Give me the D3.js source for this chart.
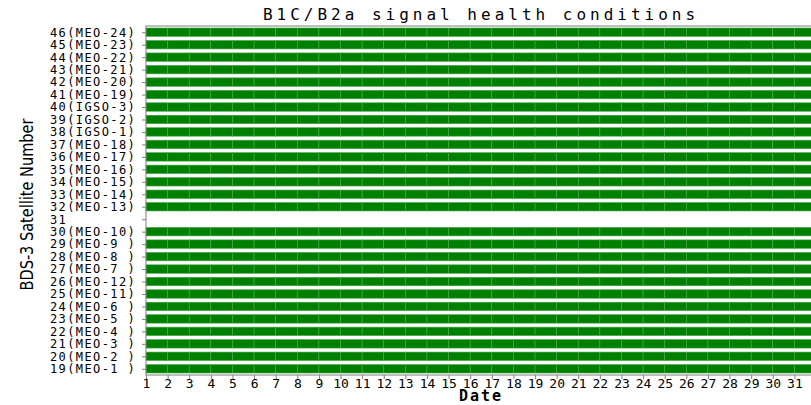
<!DOCTYPE html>
<html>
<head>
<meta charset="utf-8">
<script src="https://cdn.jsdelivr.net/npm/d3@7"></script>
<style>
  body { margin: 0; background: #fff; }
  svg { display: block; }
</style>
</head>
<body>
<script>
// satellite rows, bottom to top
const satIds = [19, 20, 21, 22, 23, 24, 25, 26, 27, 28, 29, 30, 31, 32, 33, 34, 35, 36, 37, 38, 39, 40, 41, 42, 43, 44, 45, 46];
const satNames = ['MEO-1 ', 'MEO-2 ', 'MEO-3 ', 'MEO-4 ', 'MEO-5 ', 'MEO-6 ', 'MEO-11', 'MEO-12', 'MEO-7 ', 'MEO-8 ', 'MEO-9 ', 'MEO-10',
                  '', 'MEO-13', 'MEO-14', 'MEO-15', 'MEO-16', 'MEO-17', 'MEO-18', 'IGSO-1', 'IGSO-2', 'IGSO-3',
                  'MEO-19', 'MEO-20', 'MEO-21', 'MEO-22', 'MEO-23', 'MEO-24'];
// 1 = healthy every day of the month, 0 = no record (satellite 31)
const satHealthy = [1, 1, 1, 1, 1, 1, 1, 1, 1, 1, 1, 1, 0, 1, 1, 1, 1, 1, 1, 1, 1, 1, 1, 1, 1, 1, 1, 1];
const days = d3.range(1, 32);

const W = 811, H = 405;
const margin = {left: 146, top: 26, bottom: 30};
const plotRight = 816;

const svg = d3.select('body').append('svg')
    .attr('width', W)
    .attr('height', H);

const x = d3.scaleLinear().domain([1, 32]).range([margin.left, plotRight]);
const y = d3.scaleLinear().domain([18.5, 46.5]).range([H - margin.bottom, margin.top]);
const rowH = y(0) - y(1);
const barH = rowH * 0.68;

// cells
const cells = [];
satIds.forEach((id, i) => {
    if (!satHealthy[i]) return;
    days.forEach(d => cells.push({id: id, day: d}));
});

svg.append('g').selectAll('rect')
    .data(cells)
    .enter()
    .append('rect')
    .attr('x', d => x(d.day))
    .attr('width', d => x(d.day + 1) - x(d.day))
    .attr('y', d => y(d.id) - barH / 2)
    .attr('height', barH)
    .attr('fill', '#008000')
    .attr('stroke', '#4aa84a')
    .attr('stroke-width', 0.6);

// frame
svg.append('rect')
    .attr('x', margin.left)
    .attr('y', margin.top)
    .attr('width', plotRight - margin.left)
    .attr('height', H - margin.bottom - margin.top)
    .attr('fill', 'none')
    .attr('stroke', '#808080')
    .attr('stroke-width', 1);

const mono = '"DejaVu Sans Mono", "Liberation Mono", monospace';

// y axis, labels left aligned
const yAxis = svg.append('g')
    .attr('transform', 'translate(' + margin.left + ',0)')
    .call(d3.axisLeft(y).tickValues(satIds).tickSize(4)
        .tickFormat((d, i) => satNames[i] ? d + '(' + satNames[i] + ')' : String(d)));
yAxis.select('.domain').remove();
yAxis.selectAll('line').attr('stroke', '#808080');
yAxis.selectAll('text')
    .attr('x', 50 - margin.left)
    .attr('text-anchor', 'start')
    .attr('font-family', mono)
    .attr('font-size', 12)
    .attr('letter-spacing', 1.4)
    .attr('fill', '#000')
    .style('white-space', 'pre');

// x axis
const xAxis = svg.append('g')
    .attr('transform', 'translate(0,' + (H - margin.bottom) + ')')
    .call(d3.axisBottom(x).tickValues(days).tickSize(4).tickPadding(0).tickFormat(d3.format('d')));
xAxis.select('.domain').remove();
xAxis.selectAll('line').attr('stroke', '#808080');
xAxis.selectAll('text')
    .attr('font-family', mono)
    .attr('font-size', 13)
    .attr('fill', '#000');

// titles
const cx = (margin.left + plotRight) / 2;
svg.append('text')
    .attr('x', cx)
    .attr('y', 20)
    .attr('text-anchor', 'middle')
    .attr('font-family', mono)
    .attr('font-size', 16)
    .attr('letter-spacing', 4)
    .text('B1C/B2a signal health conditions');

svg.append('text')
    .attr('x', cx)
    .attr('y', 401)
    .attr('text-anchor', 'middle')
    .attr('font-family', mono)
    .attr('font-size', 15)
    .attr('font-weight', 'bold')
    .attr('letter-spacing', 2)
    .text('Date');

svg.append('text')
    .attr('transform', 'translate(33,' + ((margin.top + H - margin.bottom) / 2 + 4) + ') rotate(-90)')
    .attr('text-anchor', 'middle')
    .attr('font-family', '"DejaVu Sans", sans-serif')
    .attr('font-size', 18)
    .attr('textLength', 172)
    .attr('lengthAdjust', 'spacingAndGlyphs')
    .text('BDS-3 Satellite Number');
</script>
</body>
</html>
